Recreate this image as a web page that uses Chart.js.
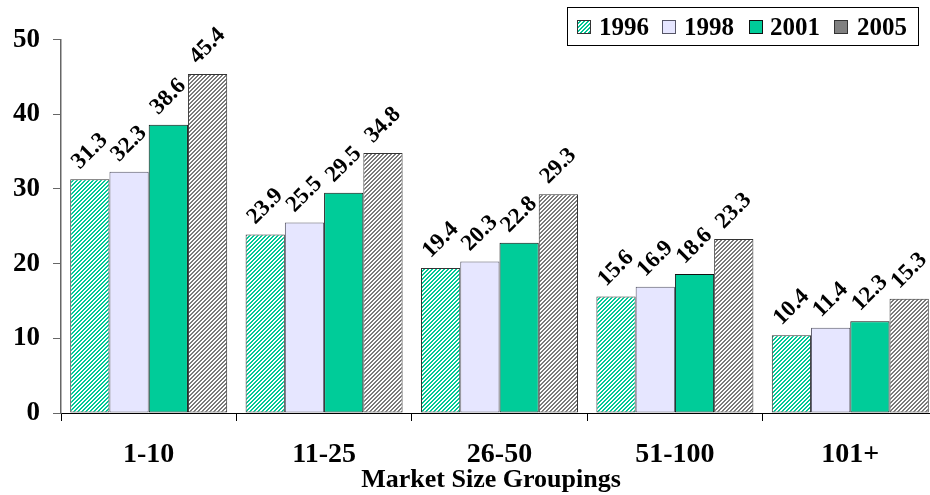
<!DOCTYPE html>
<html>
<head>
<meta charset="utf-8">
<script src="https://cdn.jsdelivr.net/npm/chart.js@4/dist/chart.umd.min.js"></script>
<style>
  html, body { margin: 0; padding: 0; background: #fff; overflow: hidden; }
  #wrap { width: 940px; height: 495px; }
</style>
</head>
<body>
<div id="wrap"><canvas id="chart" width="940" height="495"></canvas></div>
<script>
// Market size groupings and yearly values
const categories = ['1-10', '11-25', '26-50', '51-100', '101+'];
const years = ['1996', '1998', '2001', '2005'];
const values1996 = [31.3, 23.9, 19.4, 15.6, 10.4];
const values1998 = [32.3, 25.5, 20.3, 16.9, 11.4];
const values2001 = [38.6, 29.5, 22.8, 18.6, 12.3];
const values2005 = [45.4, 34.8, 29.3, 23.3, 15.3];
const yTicks = [0, 10, 20, 30, 40, 50];
const xTitle = 'Market Size Groupings';

const SERIF = '"Liberation Serif", "Times New Roman", serif';

// small diagonal tiles used as bar fills
function hatch(fg, bg) {
  const c = document.createElement('canvas');
  c.width = 4; c.height = 4;
  const g = c.getContext('2d');
  g.fillStyle = bg; g.fillRect(0, 0, 4, 4);
  g.fillStyle = fg;
  const cells = [[0,0],[1,0],[3,1],[0,1],[2,2],[3,2],[1,3],[2,3]];
  cells.forEach(([x, y]) => g.fillRect(x, y, 1, 1));
  return g.createPattern(c, 'repeat');
}

const ctx = document.getElementById('chart').getContext('2d');
const fills = [
  hatch('#00C896', '#ffffff'),
  '#E6E6FF',
  '#00CC99',
  hatch('#7a7a7a', '#ffffff')
];
const legendFills = [fills[0], fills[1], fills[2], '#808080'];
const borders = ['#333333', '#555566', '#111111', '#333333'];
const seriesData = [values1996, values1998, values2001, values2005];

// rotated value labels above each bar
const valueLabels = {
  id: 'valueLabels',
  afterDatasetsDraw(chart) {
    const c = chart.ctx;
    c.save();
    c.font = 'bold 23px ' + SERIF;
    c.fillStyle = '#000';
    c.textAlign = 'center';
    c.textBaseline = 'middle';
    chart.data.datasets.forEach((ds, i) => {
      chart.getDatasetMeta(i).data.forEach((bar, j) => {
        c.save();
        c.translate(bar.x, bar.y - 28);
        c.rotate(-Math.PI / 4);
        c.fillText(ds.data[j].toFixed(1), 0, 0);
        c.restore();
      });
    });
    c.restore();
  }
};

// boxed legend in the top-right corner and the axis title
const decorations = {
  id: 'decorations',
  afterDraw(chart) {
    const c = chart.ctx;
    c.save();
    c.fillStyle = '#fff';
    c.strokeStyle = '#000';
    c.lineWidth = 1;
    c.fillRect(567.5, 7.5, 351, 38);
    c.strokeRect(567.5, 7.5, 351, 38);
    const swatchX = [577, 662, 749, 834];
    const textX = [599, 684, 770, 857];
    c.font = 'bold 25px ' + SERIF;
    c.textBaseline = 'alphabetic';
    c.textAlign = 'left';
    years.forEach((yr, i) => {
      c.fillStyle = legendFills[i];
      c.fillRect(swatchX[i], 20, 14, 14);
      c.strokeStyle = borders[i];
      c.strokeRect(swatchX[i] + 0.5, 20.5, 13, 13);
      c.fillStyle = '#000';
      c.fillText(yr, textX[i], 35);
    });
    c.font = 'bold 26px ' + SERIF;
    c.textAlign = 'center';
    c.fillText(xTitle, 491, 487);
    c.restore();
  }
};

new Chart(ctx, {
  type: 'bar',
  data: {
    labels: categories,
    datasets: years.map((yr, i) => ({
      label: yr,
      data: seriesData[i],
      backgroundColor: fills[i],
      borderColor: borders[i],
      borderWidth: 1,
      borderSkipped: false,
      categoryPercentage: 0.895,
      barPercentage: 1.0
    }))
  },
  options: {
    responsive: false,
    animation: false,
    devicePixelRatio: 1,
    layout: { padding: { top: 39.6, right: 2, left: 0, bottom: 0 } },
    plugins: {
      legend: { display: false },
      tooltip: { enabled: false }
    },
    scales: {
      x: {
        grid: { drawOnChartArea: false, color: '#000', tickLength: 8, offset: true },
        border: { color: '#000', width: 1 },
        ticks: {
          color: '#000',
          font: { family: SERIF, size: 28, weight: 'bold' },
          padding: 17,
          maxRotation: 0
        },
        afterFit(scale) { scale.height = 82; }
      },
      y: {
        min: 0,
        max: 50,
        afterBuildTicks(scale) { scale.ticks = yTicks.map(v => ({ value: v })); },
        grid: { drawOnChartArea: false, color: '#666', tickLength: 8 },
        border: { color: '#666', width: 1.5 },
        ticks: {
          color: '#000',
          font: { family: SERIF, size: 27, weight: 'bold' },
          padding: 13
        },
        afterFit(scale) { scale.width = 61; }
      }
    }
  },
  plugins: [valueLabels, decorations]
});
</script>
</body>
</html>
